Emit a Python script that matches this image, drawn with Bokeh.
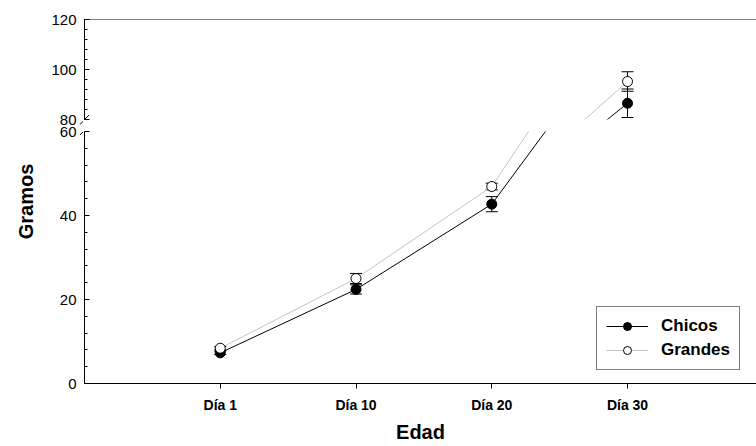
from bokeh.plotting import figure
from bokeh.models import (Range1d, FixedTicker, ColumnDataSource, Whisker, TeeHead,
                          Legend, LegendItem, Span)
from bokeh.layouts import column, row
from bokeh.core.properties import value
from bokeh.embed import file_html
from bokeh.resources import INLINE
import math

# Weight (g) by age, two groups, mean ± error
days = ["Día 1", "Día 10", "Día 20", "Día 30"]
chicos = [7.3, 22.4, 42.7, 86.5]
chicos_err = [0.4, 1.1, 1.8, 5.7]
grandes = [8.4, 25.0, 46.9, 95.2]
grandes_err = [0.4, 1.2, 0.8, 3.9]

y_ticks_low = [0, 20, 40, 60]
y_ticks_high = [80, 100, 120]

FONT = "Liberation Sans"
W, H = 756, 446
STRIP_W = 83            # left strip holding the y labels
HIGH_TOP, HIGH_BOTTOM = 19, 119    # upper panel frame (page px)
LOW_TOP, LOW_BOTTOM = 131, 383     # lower panel frame (page px)
SPLIT = 125                        # where the two panels' canvases meet
LOW_LIM = (0, 60)
HIGH_LIM = (80, 120)

xs = list(range(1, len(days) + 1))
x_range = Range1d(0, 4.95)


def style_y(p, ticks, lo, hi):
    ax = p.yaxis[0]
    ax.ticker = FixedTicker(ticks=ticks, minor_ticks=list(range(lo, hi + 1, 4)))
    ax.major_tick_in = 5
    ax.major_tick_out = 0
    ax.minor_tick_in = 3
    ax.minor_tick_out = 0
    ax.axis_line_color = "black"
    ax.major_tick_line_color = "black"
    ax.minor_tick_line_color = "black"
    # tick numbers are written in the left strip instead
    ax.major_label_text_color = None
    ax.major_label_text_font_size = "0px"
    ax.major_label_standoff = 0


def make_panel(height, lim, top, bottom, with_x_axis):
    p = figure(width=W - STRIP_W, height=height, x_range=x_range, y_range=Range1d(*lim),
               output_backend="svg", toolbar_location=None,
               x_axis_location="below" if with_x_axis else None,
               min_border_left=1, min_border_right=0,
               min_border_top=top, min_border_bottom=bottom)
    p.outline_line_color = None
    p.grid.visible = False
    p.background_fill_color = "white"
    p.border_fill_color = "white"
    return p


upper = make_panel(SPLIT, HIGH_LIM, HIGH_TOP, SPLIT - HIGH_BOTTOM, False)
lower = make_panel(H - SPLIT, LOW_LIM, LOW_TOP - SPLIT, H - LOW_BOTTOM, True)
style_y(upper, y_ticks_high, *HIGH_LIM)
style_y(lower, y_ticks_low, *LOW_LIM)

xa = lower.xaxis[0]
xa.ticker = FixedTicker(ticks=xs, minor_ticks=[])
xa.major_label_overrides = {x: d for x, d in zip(xs, days)}
xa.major_tick_in = 0
xa.major_tick_out = 5
xa.minor_tick_in = 0
xa.minor_tick_out = 0
xa.axis_line_color = "black"
xa.major_tick_line_color = "black"
xa.major_label_text_font = FONT
xa.major_label_text_font_size = "14px"
xa.major_label_text_font_style = "bold"
xa.major_label_text_color = "black"
xa.major_label_standoff = 8
xa.axis_label = "Edad"
xa.axis_label_text_font = FONT
xa.axis_label_text_font_size = "20px"
xa.axis_label_text_font_style = "bold"
xa.axis_label_text_color = "black"
xa.axis_label_standoff = 5

# frame top line
upper.add_layout(Span(location=HIGH_LIM[1], dimension="width", line_color="black", line_width=1))

legend_items = []
for p in (upper, lower):
    y_lo, y_hi = p.y_range.start, p.y_range.end
    lg = p.line(xs, grandes, line_color="#c4c4c4", line_width=1)
    lc = p.line(xs, chicos, line_color="black", line_width=1)
    for vals, errs in ((chicos, chicos_err), (grandes, grandes_err)):
        sel = [i for i, v in enumerate(vals) if y_lo <= v <= y_hi]
        src = ColumnDataSource(dict(
            x=[xs[i] for i in sel],
            upper=[vals[i] + errs[i] for i in sel],
            lower=[vals[i] - errs[i] for i in sel]))
        p.add_layout(Whisker(source=src, base="x", upper="upper", lower="lower",
                             line_color="black", line_width=1,
                             upper_head=TeeHead(size=12, line_color="black", line_width=1),
                             lower_head=TeeHead(size=12, line_color="black", line_width=1)))
    sc = p.scatter(xs, chicos, size=10, fill_color="black", line_color="black")
    sg = p.scatter(xs, grandes, size=10, fill_color="white", line_color="black", line_width=1)
    if p is lower:
        legend_items = [LegendItem(label="Chicos", renderers=[lc, sc]),
                        LegendItem(label="Grandes", renderers=[lg, sg])]

# break mark where the upper panel ends (part inside the frame)
px_per_x = (W - STRIP_W - 1) / (x_range.end - x_range.start)
high_ppu = (HIGH_BOTTOM - HIGH_TOP) / (HIGH_LIM[1] - HIGH_LIM[0])
upper.segment(x0=[-4.6 / px_per_x], y0=[HIGH_LIM[0] - 4.5 / high_ppu],
              x1=[4.6 / px_per_x], y1=[HIGH_LIM[0] + 4.5 / high_ppu],
              line_color="black", line_width=1)

legend = Legend(items=legend_items, location=(512, 13))
legend.border_line_color = "black"
legend.border_line_width = 1
legend.background_fill_color = "white"
legend.background_fill_alpha = 1
legend.padding = 9
legend.spacing = 4
legend.margin = 0
legend.glyph_width = 42
legend.glyph_height = 20
legend.label_height = 20
legend.label_standoff = 13
legend.label_text_font = FONT
legend.label_text_font_size = "17px"
legend.label_text_font_style = "bold"
legend.label_text_color = "black"
lower.add_layout(legend)

# Left strip: y tick labels of both panels, the y title and the break marks.
strip = figure(width=STRIP_W, height=H, x_range=Range1d(0, STRIP_W), y_range=Range1d(H, 0),
               output_backend="svg", toolbar_location=None,
               x_axis_location=None, y_axis_location=None, min_border=0)
strip.outline_line_color = None
strip.grid.visible = False
strip.background_fill_color = "white"
strip.border_fill_color = "white"

low_ppu = (LOW_BOTTOM - LOW_TOP) / (LOW_LIM[1] - LOW_LIM[0])
strip.extra_y_ranges = {
    "low": Range1d(LOW_LIM[0] - (H - LOW_BOTTOM) / low_ppu, LOW_LIM[1] + LOW_TOP / low_ppu),
    "high": Range1d(HIGH_LIM[0] - (H - HIGH_BOTTOM) / high_ppu, HIGH_LIM[1] + HIGH_TOP / high_ppu),
}
label_x = STRIP_W - 7
for name, ticks in (("low", y_ticks_low), ("high", y_ticks_high)):
    strip.text(x=[label_x] * len(ticks), y=ticks, text=[str(t) for t in ticks],
               y_range_name=name, text_font=value(FONT), text_font_size=value("15px"),
               text_color="black", text_align="right", text_baseline="middle")

strip.text(x=[25], y=[(HIGH_TOP + LOW_BOTTOM) / 2], text=["Gramos"], angle=math.pi / 2,
           text_font=value(FONT), text_font_size=value("20px"), text_font_style="bold",
           text_color="black", text_align="center", text_baseline="middle")

# "//" axis break marks, centred on the axis line
bx = STRIP_W + 1
strip.segment(x0=[bx - 4.6, bx - 4.6], y0=[HIGH_BOTTOM + 5, LOW_TOP + 3.5],
              x1=[bx + 4.6, bx + 4.6], y1=[HIGH_BOTTOM - 4, LOW_TOP - 5.5],
              line_color="black", line_width=1)

layout = row(strip, column(upper, lower, spacing=0), spacing=0)
open("out.html", "w").write(file_html(layout, INLINE))
